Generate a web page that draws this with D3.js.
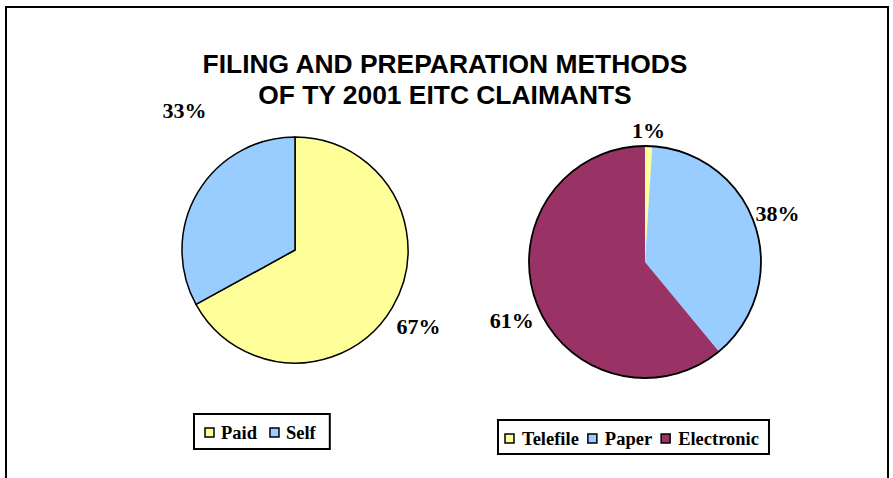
<!DOCTYPE html>
<html>
<head>
<meta charset="utf-8">
<script src="https://cdn.jsdelivr.net/npm/d3@7"></script>
<style>
  body { margin: 0; background: #fff; }
  svg { display: block; }
</style>
</head>
<body>
<div id="chart"></div>
<script>
// chart data
var titleLines = ["FILING AND PREPARATION METHODS", "OF TY 2001 EITC CLAIMANTS"];
var prepCategories = ["Paid", "Self"];
var prepValues = [67, 33];
var fileCategories = ["Telefile", "Paper", "Electronic"];
var fileValues = [1, 38, 61];

var colors = {
    Paid: "#ffff99", Self: "#99ccff",
    Telefile: "#ffff99", Paper: "#99ccff", Electronic: "#993366"
};

// label nudges (Excel puts labels a bit off the centroid)
var nudge = {
    Paid: [-2, 3], Self: [15, -65],
    Telefile: [-1, 10], Paper: [-2, -5], Electronic: [0, 11]
};

var serif = "'Liberation Serif', 'Times New Roman', Times, serif";
var sans = "'Liberation Sans', Arial, Helvetica, sans-serif";

var svg = d3.select("#chart").append("svg").attr("width", 893).attr("height", 478);

// outer frame
svg.append("rect")
    .attr("x", 6).attr("y", 7)
    .attr("width", 882).attr("height", 500)
    .attr("fill", "none").attr("stroke", "#000").attr("stroke-width", 2);

// title
svg.selectAll(".title")
    .data(titleLines)
    .enter()
    .append("text")
    .attr("class", "title")
    .attr("x", 445)
    .attr("y", function (d, i) { return 73 + i * 31; })
    .attr("text-anchor", "middle")
    .style("font-family", sans)
    .style("font-weight", "bold")
    .style("font-size", "26.4px")
    .text(function (d) { return d; });

var pie = d3.pie().sort(null).value(function (d) { return d.value; });

function drawPie(cats, vals, cx, cy, r, labelK, innerStroke) {
    var data = cats.map(function (c, i) { return { name: c, value: vals[i] }; });
    var arcs = pie(data);
    var arc = d3.arc().innerRadius(0).outerRadius(r);
    var labelArc = d3.arc().innerRadius(r * labelK).outerRadius(r * labelK);
    var g = svg.append("g").attr("transform", "translate(" + cx + "," + cy + ")");

    g.selectAll("path.slice")
        .data(arcs)
        .enter()
        .append("path")
        .attr("class", "slice")
        .attr("d", arc)
        .attr("fill", function (d) { return colors[d.data.name]; })
        .attr("stroke", innerStroke ? "#000" : "none")
        .attr("stroke-width", 1.5)
        .attr("stroke-linejoin", "round");

    if (!innerStroke) {
        g.append("circle").attr("r", r)
            .attr("fill", "none").attr("stroke", "#000").attr("stroke-width", 1.8);
    }

    g.selectAll("text.pct")
        .data(arcs)
        .enter()
        .append("text")
        .attr("class", "pct")
        .attr("x", function (d) { return labelArc.centroid(d)[0] + nudge[d.data.name][0]; })
        .attr("y", function (d) { return labelArc.centroid(d)[1] + nudge[d.data.name][1]; })
        .attr("dy", "0.33em")
        .attr("text-anchor", "middle")
        .style("font-family", serif)
        .style("font-weight", "bold")
        .style("font-size", "22px")
        .text(function (d) { return d.data.value + "%"; });
}

drawPie(prepCategories, prepValues, 295, 250, 113, 1.29, true);
drawPie(fileCategories, fileValues, 645, 262, 116, 1.22, false);

function drawLegend(cats, x0, top, bottom, baseline, textOff, gap, padL, padR) {
    var g = svg.append("g");
    var box = g.append("rect")
        .attr("y", top).attr("height", bottom - top)
        .attr("fill", "#fff").attr("stroke", "#000").attr("stroke-width", 2);
    var x = x0;
    cats.forEach(function (c) {
        g.append("rect")
            .attr("x", x).attr("y", baseline - 11)
            .attr("width", 9).attr("height", 9)
            .attr("fill", colors[c]).attr("stroke", "#000").attr("stroke-width", 1.5);
        var t = g.append("text")
            .attr("x", x + textOff).attr("y", baseline)
            .style("font-family", serif)
            .style("font-weight", "bold")
            .style("font-size", "18.5px")
            .text(c);
        x = x + textOff + t.node().getComputedTextLength() + gap;
    });
    box.attr("x", x0 - padL).attr("width", (x - gap + padR) - (x0 - padL));
}

drawLegend(prepCategories, 205, 414, 449, 439, 16, 13, 11, 14);
drawLegend(fileCategories, 505, 420, 454, 445, 17, 9, 7, 10);
</script>
</body>
</html>
